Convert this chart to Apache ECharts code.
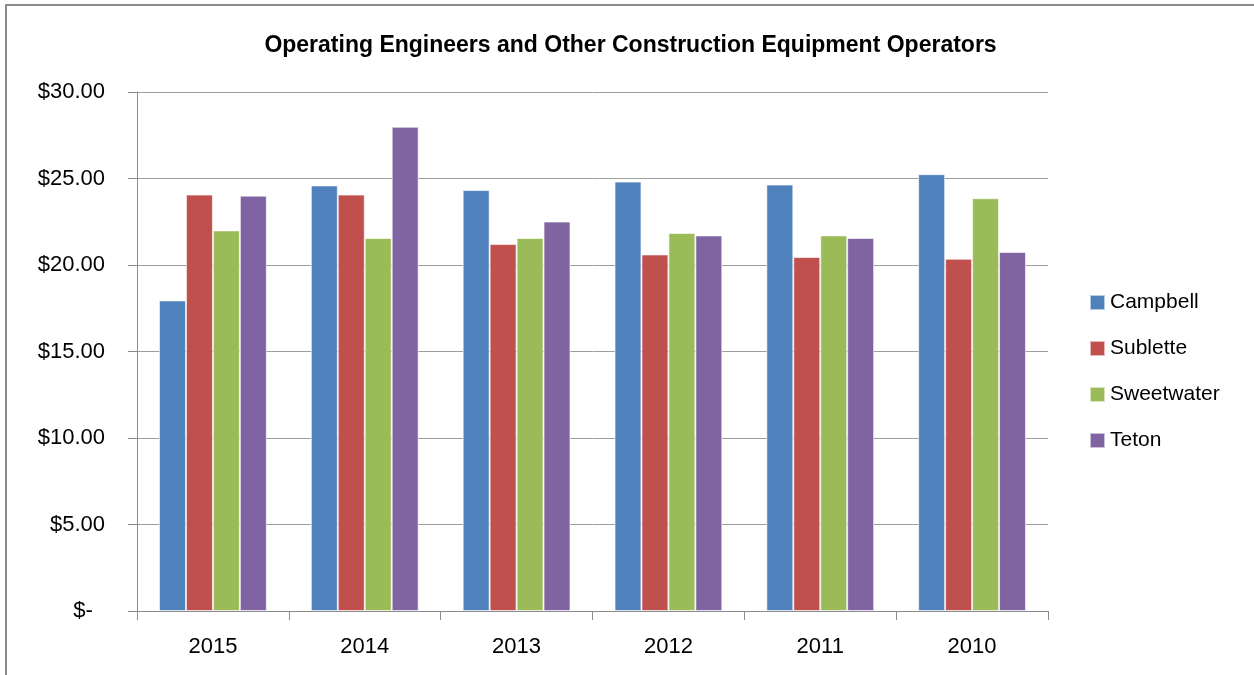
<!DOCTYPE html>
<html>
<head>
<meta charset="utf-8">
<script src="https://cdn.jsdelivr.net/npm/echarts@6/dist/echarts.min.js"></script>
<style>
    html, body { margin: 0; padding: 0; background: #fff; }
    #main {
        position: absolute; left: 5px; top: 4px;
        width: 1249px; height: 671px;
        border-top: 2px solid #8c8c8c; border-left: 2px solid #8c8c8c;
        box-sizing: border-box;
    }
</style>
</head>
<body>
<div id="main"></div>
<script>
const years = ['2015', '2014', '2013', '2012', '2011', '2010']
const campbell = [17.95, 24.6, 24.33, 24.82, 24.65, 25.25]
const sublette = [24.07, 24.07, 21.21, 20.61, 20.46, 20.36]
const sweetwater = [22.0, 21.56, 21.56, 21.85, 21.71, 23.86]
const teton = [24.01, 27.99, 22.51, 21.71, 21.56, 20.75]

const seriesNames = ['Campbell', 'Sublette', 'Sweetwater', 'Teton']
const seriesColors = ['#4f81bd', '#c0504d', '#9bbb59', '#8064a2']
const fontFamily = 'Liberation Sans, Arial, sans-serif'

const chart = echarts.init(document.getElementById('main'))

const makeSeries = (name, data, color) => ({
    name,
    type: 'bar',
    data,
    barGap: '0%',
    barCategoryGap: '29%',
    itemStyle: {
        color,
        borderColor: 'rgba(255,255,255,0.6)',
        borderWidth: 1,
    },
})

chart.setOption({
    animation: false,
    textStyle: { fontFamily },
    title: {
        text: 'Operating Engineers and Other Construction Equipment Operators',
        left: 'center',
        top: 23,
        textStyle: {
            fontFamily,
            fontSize: 23,
            fontWeight: 'bold',
            color: '#000',
        },
    },
    legend: {
        orient: 'vertical',
        left: 1077,
        top: 281,
        itemWidth: 15,
        itemHeight: 15,
        itemGap: 25,
        icon: 'rect',
        textStyle: { fontSize: 21, color: '#000' },
        data: seriesNames,
    },
    grid: {
        left: 130,
        right: 206,
        top: 86,
        bottom: 64,
        containLabel: false,
    },
    xAxis: {
        type: 'category',
        data: years,
        axisLine: { lineStyle: { color: '#8c8c8c', width: 1 } },
        axisTick: { show: true, length: 9, lineStyle: { color: '#8c8c8c' } },
        axisLabel: { fontSize: 22, color: '#000', margin: 25 },
    },
    yAxis: {
        type: 'value',
        min: 0,
        max: 30,
        interval: 5,
        axisLine: { show: true, lineStyle: { color: '#8c8c8c', width: 1 } },
        axisTick: { show: true, length: 9, lineStyle: { color: '#8c8c8c' } },
        splitLine: { lineStyle: { color: '#9d9d9d', width: 1 } },
        axisLabel: {
            fontSize: 22,
            color: '#000',
            margin: 32,
            formatter: (v) => (v === 0 ? '$-  ' : '$' + v.toFixed(2)),
        },
    },
    series: [
        makeSeries(seriesNames[0], campbell, seriesColors[0]),
        makeSeries(seriesNames[1], sublette, seriesColors[1]),
        makeSeries(seriesNames[2], sweetwater, seriesColors[2]),
        makeSeries(seriesNames[3], teton, seriesColors[3]),
    ],
})
</script>
</body>
</html>
